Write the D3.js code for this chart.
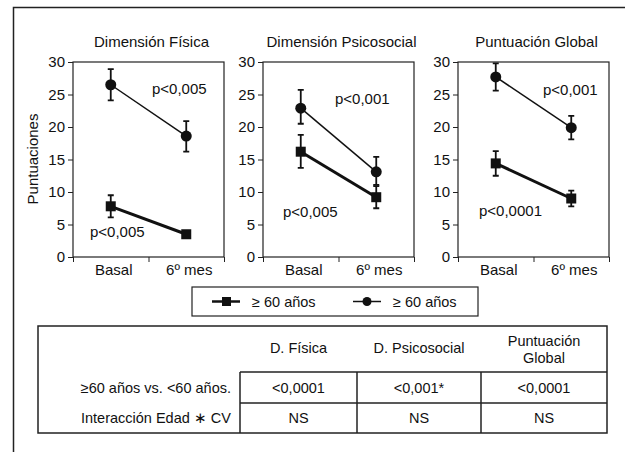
<!DOCTYPE html>
<html lang="es">
<head>
<meta charset="utf-8">
<title>Puntuaciones</title>
<script src="https://cdn.jsdelivr.net/npm/d3@7"></script>
<style>
  body { margin: 0; background: #fff; }
  svg { display: block; font-family: "Liberation Sans", Arial, sans-serif; }
  text { fill: #111; }
</style>
</head>
<body>
<div id="chart"></div>
<script>
// data
var panels = ["Dimensión Física", "Dimensión Psicosocial", "Puntuación Global"];
var times = ["Basal", "6º mes"];
var yTicks = [0, 5, 10, 15, 20, 25, 30];

// squares series
var sqMean = [[7.8, 3.5], [16.2, 9.2], [14.4, 9.0]];
var sqLow  = [[6.1, 3.0], [13.7, 7.5], [12.5, 7.8]];
var sqHigh = [[9.5, 4.0], [18.8, 10.9], [16.3, 10.2]];
// circles series
var ciMean = [[26.5, 18.6], [22.9, 13.1], [27.7, 19.9]];
var ciLow  = [[24.1, 16.2], [20.5, 11.1], [25.6, 18.1]];
var ciHigh = [[28.9, 20.9], [25.7, 15.4], [29.8, 21.7]];

var pTop = ["p<0,005", "p<0,001", "p<0,001"];
var pBottom = ["p<0,005", "p<0,005", "p<0,0001"];

var legendLabels = ["\u2265 60 años", "\u2265 60 años"];

var colHeads = ["D. Física", "D. Psicosocial", ["Puntuación", "Global"]];
var rowLabels = ["\u226560 años vs. <60 años.", "Interacción Edad \u2217 CV"];
var cells = [["<0,0001", "<0,001*", "<0,0001"], ["NS", "NS", "NS"]];

// layout
var W = 625, H = 452;
var plotLeft = [73, 263, 458];
var plotW = 151, plotTop = 62, plotBottom = 257;
// annotation placement: [x offset px, value]
var pTopPos = [[79, 25.8], [72, 24.3], [85, 25.7]];
var pBotPos = [[17, 3.8], [20, 6.9], [21, 7.1]];
var fs = "15px", tfs = "14.5px";

var svg = d3.select("#chart").append("svg")
  .attr("width", W).attr("height", H);

// outer frame (top + left only)
svg.append("path")
  .attr("d", "M13.5,452 V7.5 H625")
  .attr("fill", "none").attr("stroke", "#222").attr("stroke-width", 1.5);

var y = d3.scaleLinear().domain([0, 30]).range([plotBottom, plotTop]);
var x = d3.scaleBand().domain(times).range([0, plotW]);

panels.forEach(function(name, i) {
  var g = svg.append("g").attr("transform", "translate(" + plotLeft[i] + ",0)");

  g.append("text")
    .attr("x", plotW / 2 + 3).attr("y", 47)
    .attr("text-anchor", "middle")
    .style("font-size", fs)
    .text(name);

  g.append("rect")
    .attr("x", 0).attr("y", plotTop)
    .attr("width", plotW).attr("height", plotBottom - plotTop)
    .attr("fill", "none").attr("stroke", "#222").attr("stroke-width", 1.2);

  var ya = g.append("g")
    .call(d3.axisLeft(y).tickValues(yTicks).tickSize(5).tickPadding(3));
  ya.select(".domain").remove();
  ya.selectAll("line").attr("stroke", "#222");
  ya.selectAll("text").style("font-size", fs).attr("fill", "#111");

  var xa = g.append("g").attr("transform", "translate(0," + plotBottom + ")")
    .call(d3.axisBottom(d3.scaleLinear().domain([0, 2]).range([0, plotW]))
      .tickValues([0, 1, 2]).tickSize(5).tickFormat(""));
  xa.select(".domain").remove();
  xa.selectAll("line").attr("stroke", "#222");

  g.selectAll(".xl").data(times).enter().append("text")
    .attr("x", function(d) { return x(d) + x.bandwidth() / 2 + 3; })
    .attr("y", plotBottom + 18)
    .attr("text-anchor", "middle")
    .style("font-size", fs)
    .text(function(d) { return d; });

  var cx = function(d, j) { return x(times[j]) + x.bandwidth() / 2; };

  function series(mean, low, high, lw, shape) {
    var line = d3.line()
      .x(function(d, j) { return cx(d, j); })
      .y(function(d) { return y(d); });
    g.append("path").datum(mean)
      .attr("d", line)
      .attr("fill", "none").attr("stroke", "#111").attr("stroke-width", lw);

    g.selectAll(null).data(mean).enter().append("path")
      .attr("d", function(d, j) {
        var xx = cx(d, j), y1 = y(low[j]), y2 = y(high[j]);
        return "M" + xx + "," + y1 + "V" + y2 +
          "M" + (xx - 3) + "," + y1 + "H" + (xx + 3) +
          "M" + (xx - 3) + "," + y2 + "H" + (xx + 3);
      })
      .attr("stroke", "#111").attr("stroke-width", 1.8).attr("fill", "none");

    if (shape === "square") {
      g.selectAll(null).data(mean).enter().append("rect")
        .attr("x", function(d, j) { return cx(d, j) - 5; })
        .attr("y", function(d) { return y(d) - 5; })
        .attr("width", 10).attr("height", 10)
        .attr("fill", "#111");
    } else {
      g.selectAll(null).data(mean).enter().append("circle")
        .attr("cx", function(d, j) { return cx(d, j); })
        .attr("cy", function(d) { return y(d); })
        .attr("r", 5.5)
        .attr("fill", "#111");
    }
  }

  series(ciMean[i], ciLow[i], ciHigh[i], 1.5, "circle");
  series(sqMean[i], sqLow[i], sqHigh[i], 3, "square");

  g.append("text")
    .attr("x", pTopPos[i][0]).attr("y", y(pTopPos[i][1]) + 5)
    .style("font-size", fs).text(pTop[i]);
  g.append("text")
    .attr("x", pBotPos[i][0]).attr("y", y(pBotPos[i][1]) + 5)
    .style("font-size", fs).text(pBottom[i]);
});

// y label
svg.append("text")
  .attr("transform", "translate(38,159) rotate(-90)")
  .attr("text-anchor", "middle")
  .style("font-size", fs)
  .text("Puntuaciones");

// legend
var lg = svg.append("g");
lg.append("rect")
  .attr("x", 192).attr("y", 287).attr("width", 286).attr("height", 29)
  .attr("fill", "none").attr("stroke", "#222").attr("stroke-width", 1.2);
var legX = [212, 353];
legendLabels.forEach(function(t, k) {
  var lx = legX[k], ly = 301.5;
  lg.append("line")
    .attr("x1", lx).attr("x2", lx + 28).attr("y1", ly).attr("y2", ly)
    .attr("stroke", "#111").attr("stroke-width", k === 0 ? 2.5 : 1.5);
  if (k === 0) {
    lg.append("rect").attr("x", lx + 10).attr("y", ly - 4.5)
      .attr("width", 9).attr("height", 9).attr("fill", "#111");
  } else {
    lg.append("circle").attr("cx", lx + 14).attr("cy", ly).attr("r", 4.5)
      .attr("fill", "#111");
  }
  lg.append("text")
    .attr("x", lx + 40).attr("y", ly + 5)
    .style("font-size", tfs).text(t);
});

// table
var tb = svg.append("g");
var tL = 38, tR = 607, tT = 326, tB = 433;
var colX = [240, 357, 481, 607];
var rowY = [372, 403, 433];
tb.append("rect")
  .attr("x", tL).attr("y", tT).attr("width", tR - tL).attr("height", tB - tT)
  .attr("fill", "none").attr("stroke", "#222").attr("stroke-width", 1.5);
rowY.slice(0, 2).forEach(function(ry) {
  tb.append("line").attr("x1", colX[0]).attr("x2", tR).attr("y1", ry).attr("y2", ry)
    .attr("stroke", "#222").attr("stroke-width", 1.5);
});
colX.slice(0, 3).forEach(function(cxv) {
  tb.append("line").attr("x1", cxv).attr("x2", cxv).attr("y1", rowY[0]).attr("y2", tB)
    .attr("stroke", "#222").attr("stroke-width", 1.5);
});
colHeads.forEach(function(h, c) {
  var mid = (colX[c] + colX[c + 1]) / 2;
  var lines = Array.isArray(h) ? h : [h];
  lines.forEach(function(s, li) {
    tb.append("text")
      .attr("x", mid)
      .attr("y", lines.length === 1 ? 353 : 346 + li * 17)
      .attr("text-anchor", "middle")
      .style("font-size", tfs).text(s);
  });
});
rowLabels.forEach(function(r, ri) {
  var midY = (rowY[ri] + rowY[ri + 1]) / 2;
  tb.append("text")
    .attr("x", 231).attr("y", midY + 5)
    .attr("text-anchor", "end")
    .style("font-size", tfs).text(r);
  cells[ri].forEach(function(v, c) {
    tb.append("text")
      .attr("x", (colX[c] + colX[c + 1]) / 2).attr("y", midY + 5)
      .attr("text-anchor", "middle")
      .style("font-size", tfs).text(v);
  });
});
</script>
</body>
</html>
